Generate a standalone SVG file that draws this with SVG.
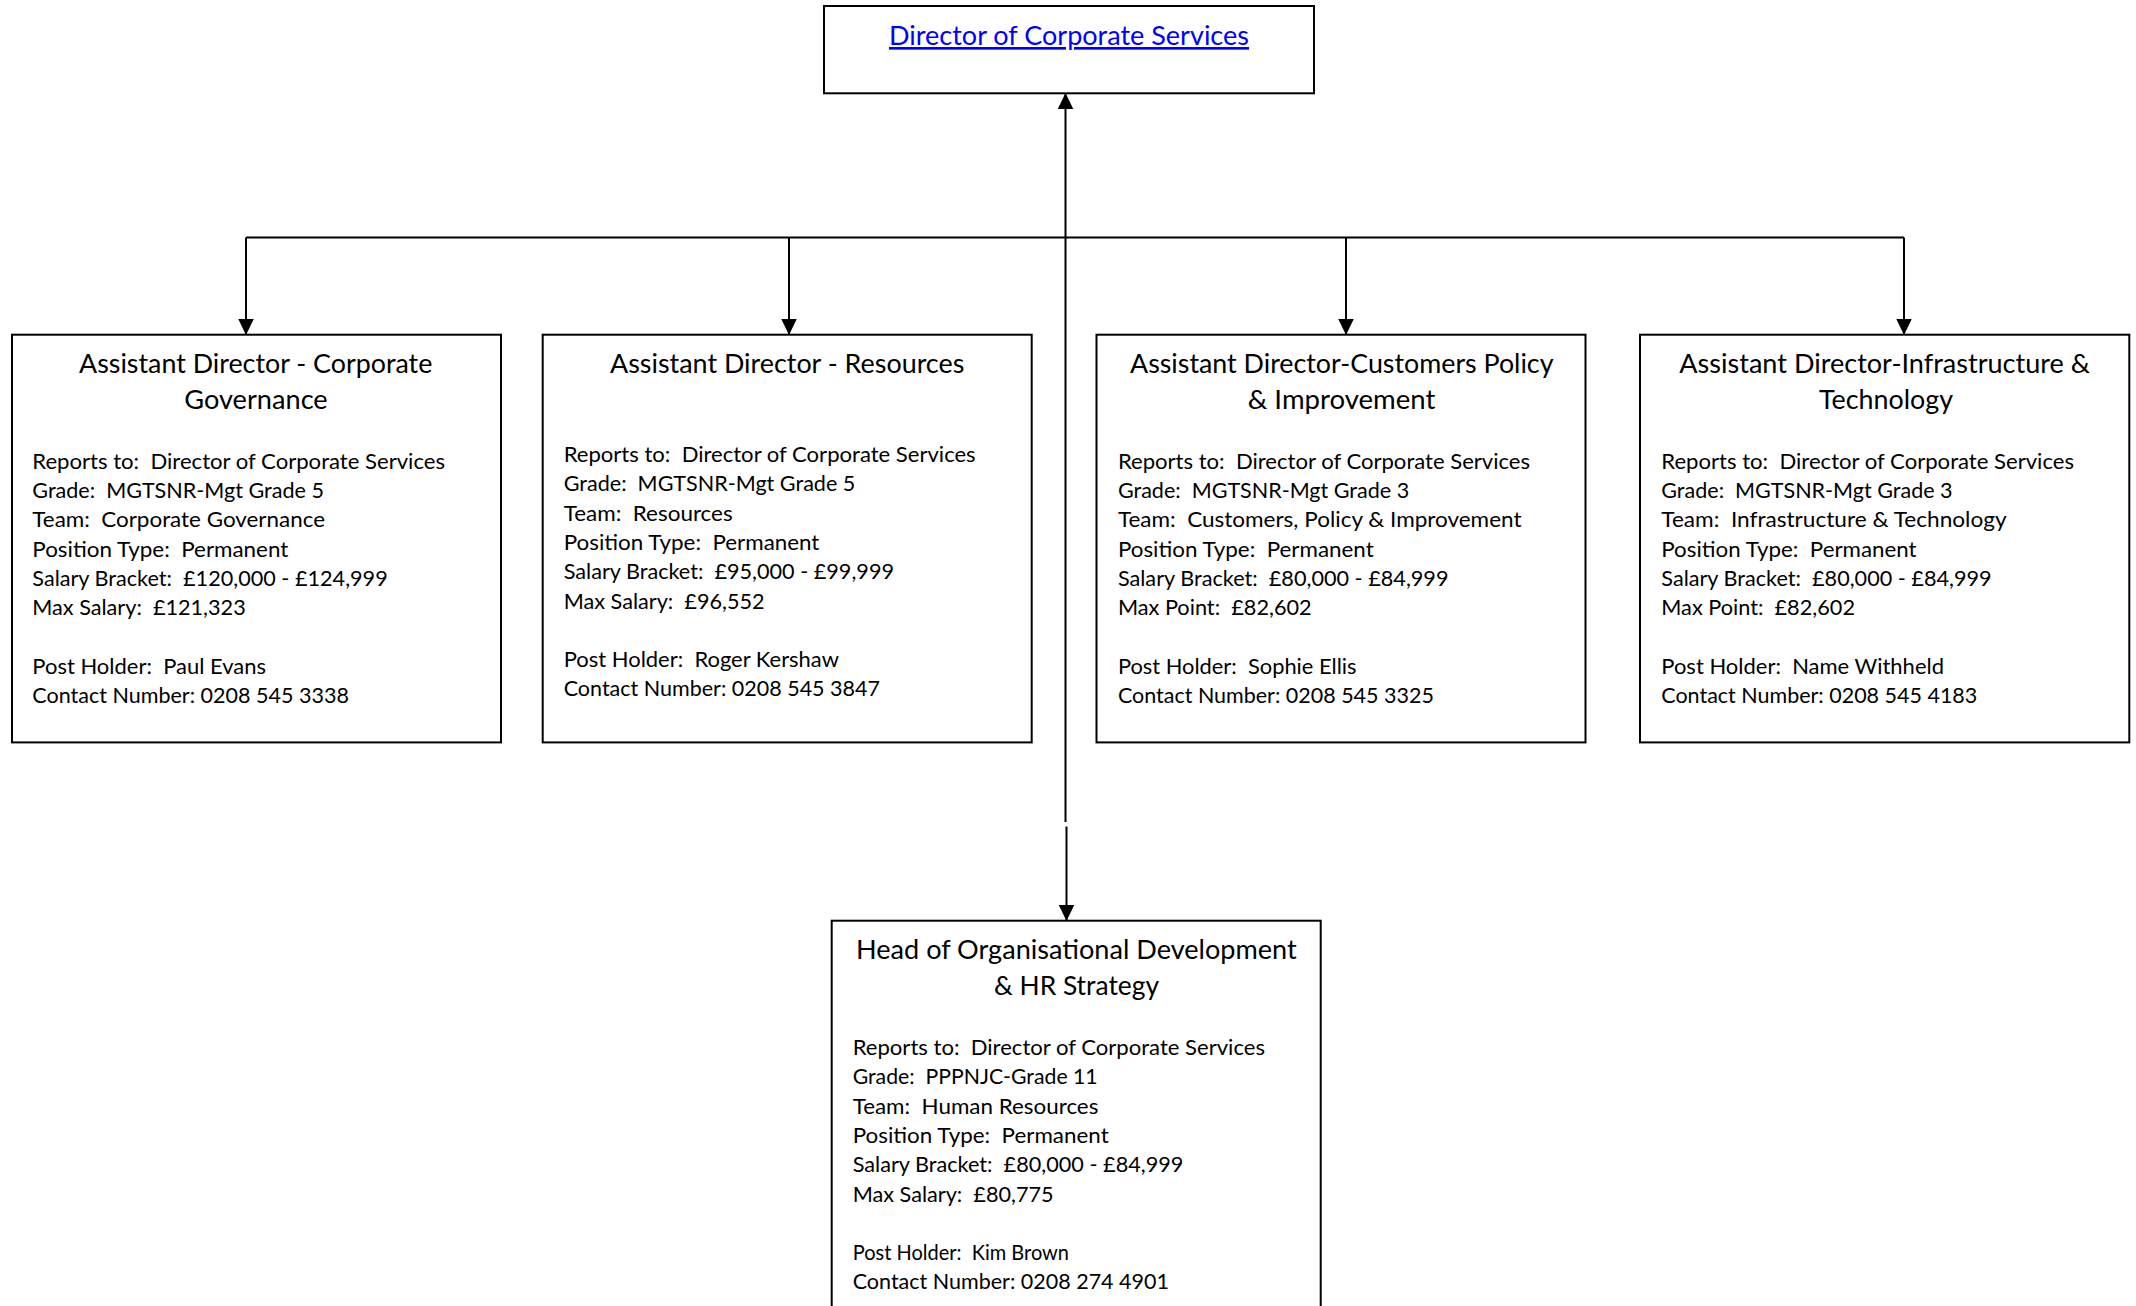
<svg xmlns="http://www.w3.org/2000/svg" width="2136" height="1306" viewBox="0 0 2136 1306">
<style>
.box{fill:#ffffff;stroke:#000000;stroke-width:2}
.t{font-family:Lato,"Liberation Sans",sans-serif;font-size:26.5px;fill:#000000;white-space:pre}
.b{font-family:Lato,"Liberation Sans",sans-serif;font-size:22px;fill:#000000;white-space:pre}
.link{fill:#0000ff;text-decoration:underline}
.c{stroke:#000000;stroke-width:2;fill:none}
</style>
<defs>
<marker id="ah" markerUnits="userSpaceOnUse" markerWidth="16" markerHeight="16" refX="15" refY="7.75" orient="auto" viewBox="0 0 16 15.5">
<path d="M0,0 L16,7.75 L0,15.5 Z" fill="#000000"/>
</marker>
</defs>
<rect x="0" y="0" width="2136" height="1306" fill="#ffffff"/>

<g id="connectors">
<line class="c" x1="246" y1="237.5" x2="1904" y2="237.5"/>
<line class="c" x1="246" y1="237.5" x2="246" y2="334" marker-end="url(#ah)"/>
<line class="c" x1="789" y1="237.5" x2="789" y2="334" marker-end="url(#ah)"/>
<line class="c" x1="1346" y1="237.5" x2="1346" y2="334" marker-end="url(#ah)"/>
<line class="c" x1="1904" y1="237.5" x2="1904" y2="334" marker-end="url(#ah)"/>
<line class="c" x1="1065.5" y1="822" x2="1065.5" y2="94" marker-end="url(#ah)"/>
<line class="c" x1="1066.5" y1="826.5" x2="1066.5" y2="920" marker-end="url(#ah)"/>
</g>

<g id="director">
<rect class="box" x="824" y="6" width="490" height="87.3"/>
<text class="t link" x="889" y="45" textLength="360" lengthAdjust="spacingAndGlyphs">Director of Corporate Services</text>
</g>

<g id="ad-corporate-governance">
<rect class="box" x="12" y="334.7" width="489" height="407.7"/>
<text class="t" x="79" y="372.5" textLength="353.3" lengthAdjust="spacingAndGlyphs">Assistant Director - Corporate</text>
<text class="t" x="184.3" y="408.7" textLength="143.4" lengthAdjust="spacingAndGlyphs">Governance</text>
<text class="b" x="32.3" y="468.6" textLength="412.7" lengthAdjust="spacingAndGlyphs">Reports to:  Director of Corporate Services</text>
<text class="b" x="32.3" y="497.9" textLength="291.7" lengthAdjust="spacingAndGlyphs">Grade:  MGTSNR-Mgt Grade 5</text>
<text class="b" x="32.3" y="527.2" textLength="292.7" lengthAdjust="spacingAndGlyphs">Team:  Corporate Governance</text>
<text class="b" x="32.3" y="556.5" textLength="256" lengthAdjust="spacingAndGlyphs">Position Type:  Permanent</text>
<text class="b" x="32.3" y="585.8" textLength="355.4" lengthAdjust="spacingAndGlyphs">Salary Bracket:  £120,000 - £124,999</text>
<text class="b" x="32.3" y="615.1" textLength="213.4" lengthAdjust="spacingAndGlyphs">Max Salary:  £121,323</text>
<text class="b" x="32.3" y="673.7" textLength="233.7" lengthAdjust="spacingAndGlyphs">Post Holder:  Paul Evans</text>
<text class="b" x="32.3" y="703" textLength="316.7" lengthAdjust="spacingAndGlyphs">Contact Number: 0208 545 3338</text>
</g>

<g id="ad-resources">
<rect class="box" x="542.7" y="334.7" width="489" height="407.7"/>
<text class="t" x="610" y="372.5" textLength="354.3" lengthAdjust="spacingAndGlyphs">Assistant Director - Resources</text>
<text class="b" x="563.7" y="462" textLength="412" lengthAdjust="spacingAndGlyphs">Reports to:  Director of Corporate Services</text>
<text class="b" x="563.7" y="491.3" textLength="291.7" lengthAdjust="spacingAndGlyphs">Grade:  MGTSNR-Mgt Grade 5</text>
<text class="b" x="563.7" y="520.6" textLength="169" lengthAdjust="spacingAndGlyphs">Team:  Resources</text>
<text class="b" x="563.7" y="549.9" textLength="255.7" lengthAdjust="spacingAndGlyphs">Position Type:  Permanent</text>
<text class="b" x="563.7" y="579.2" textLength="330.3" lengthAdjust="spacingAndGlyphs">Salary Bracket:  £95,000 - £99,999</text>
<text class="b" x="563.7" y="608.5" textLength="201" lengthAdjust="spacingAndGlyphs">Max Salary:  £96,552</text>
<text class="b" x="563.7" y="667.1" textLength="275.3" lengthAdjust="spacingAndGlyphs">Post Holder:  Roger Kershaw</text>
<text class="b" x="563.7" y="696.4" textLength="316.3" lengthAdjust="spacingAndGlyphs">Contact Number: 0208 545 3847</text>
</g>

<g id="ad-customers">
<rect class="box" x="1096.5" y="334.7" width="489" height="407.7"/>
<text class="t" x="1130" y="372.5" textLength="423.5" lengthAdjust="spacingAndGlyphs">Assistant Director-Customers Policy</text>
<text class="t" x="1247.7" y="408.7" textLength="187.7" lengthAdjust="spacingAndGlyphs">&amp; Improvement</text>
<text class="b" x="1117.9" y="468.6" textLength="412.2" lengthAdjust="spacingAndGlyphs">Reports to:  Director of Corporate Services</text>
<text class="b" x="1117.9" y="497.9" textLength="291.3" lengthAdjust="spacingAndGlyphs">Grade:  MGTSNR-Mgt Grade 3</text>
<text class="b" x="1117.9" y="527.2" textLength="403.6" lengthAdjust="spacingAndGlyphs">Team:  Customers, Policy &amp; Improvement</text>
<text class="b" x="1117.9" y="556.5" textLength="255.8" lengthAdjust="spacingAndGlyphs">Position Type:  Permanent</text>
<text class="b" x="1117.9" y="585.8" textLength="330.6" lengthAdjust="spacingAndGlyphs">Salary Bracket:  £80,000 - £84,999</text>
<text class="b" x="1117.9" y="615.1" textLength="193.8" lengthAdjust="spacingAndGlyphs">Max Point:  £82,602</text>
<text class="b" x="1117.9" y="673.7" textLength="238.6" lengthAdjust="spacingAndGlyphs">Post Holder:  Sophie Ellis</text>
<text class="b" x="1117.9" y="703" textLength="316" lengthAdjust="spacingAndGlyphs">Contact Number: 0208 545 3325</text>
</g>

<g id="ad-infrastructure">
<rect class="box" x="1640" y="334.7" width="489.3" height="407.7"/>
<text class="t" x="1679.3" y="372.5" textLength="410.7" lengthAdjust="spacingAndGlyphs">Assistant Director-Infrastructure &amp;</text>
<text class="t" x="1819" y="408.7" textLength="134" lengthAdjust="spacingAndGlyphs">Technology</text>
<text class="b" x="1661.3" y="468.6" textLength="412.7" lengthAdjust="spacingAndGlyphs">Reports to:  Director of Corporate Services</text>
<text class="b" x="1661.3" y="497.9" textLength="291.3" lengthAdjust="spacingAndGlyphs">Grade:  MGTSNR-Mgt Grade 3</text>
<text class="b" x="1661.3" y="527.2" textLength="345.3" lengthAdjust="spacingAndGlyphs">Team:  Infrastructure &amp; Technology</text>
<text class="b" x="1661.3" y="556.5" textLength="255.3" lengthAdjust="spacingAndGlyphs">Position Type:  Permanent</text>
<text class="b" x="1661.3" y="585.8" textLength="330.3" lengthAdjust="spacingAndGlyphs">Salary Bracket:  £80,000 - £84,999</text>
<text class="b" x="1661.3" y="615.1" textLength="193.7" lengthAdjust="spacingAndGlyphs">Max Point:  £82,602</text>
<text class="b" x="1661.3" y="673.7" textLength="282.7" lengthAdjust="spacingAndGlyphs">Post Holder:  Name Withheld</text>
<text class="b" x="1661.3" y="703" textLength="316" lengthAdjust="spacingAndGlyphs">Contact Number: 0208 545 4183</text>
</g>

<g id="head-od-hr">
<rect class="box" x="831.7" y="920.7" width="489" height="420"/>
<text class="t" x="856" y="958.5" textLength="440.7" lengthAdjust="spacingAndGlyphs">Head of Organisational Development</text>
<text class="t" x="994" y="994.5" textLength="165" lengthAdjust="spacingAndGlyphs">&amp; HR Strategy</text>
<text class="b" x="852.7" y="1055" textLength="412.3" lengthAdjust="spacingAndGlyphs">Reports to:  Director of Corporate Services</text>
<text class="b" x="852.7" y="1084.3" textLength="245" lengthAdjust="spacingAndGlyphs">Grade:  PPPNJC-Grade 11</text>
<text class="b" x="852.7" y="1113.6" textLength="245.7" lengthAdjust="spacingAndGlyphs">Team:  Human Resources</text>
<text class="b" x="852.7" y="1142.9" textLength="256" lengthAdjust="spacingAndGlyphs">Position Type:  Permanent</text>
<text class="b" x="852.7" y="1172.2" textLength="330.7" lengthAdjust="spacingAndGlyphs">Salary Bracket:  £80,000 - £84,999</text>
<text class="b" x="852.7" y="1201.5" textLength="201" lengthAdjust="spacingAndGlyphs">Max Salary:  £80,775</text>
<text class="b" x="852.7" y="1260.1" textLength="216.3" lengthAdjust="spacingAndGlyphs">Post Holder:  Kim Brown</text>
<text class="b" x="852.7" y="1289" textLength="316.3" lengthAdjust="spacingAndGlyphs">Contact Number: 0208 274 4901</text>
</g>
</svg>
